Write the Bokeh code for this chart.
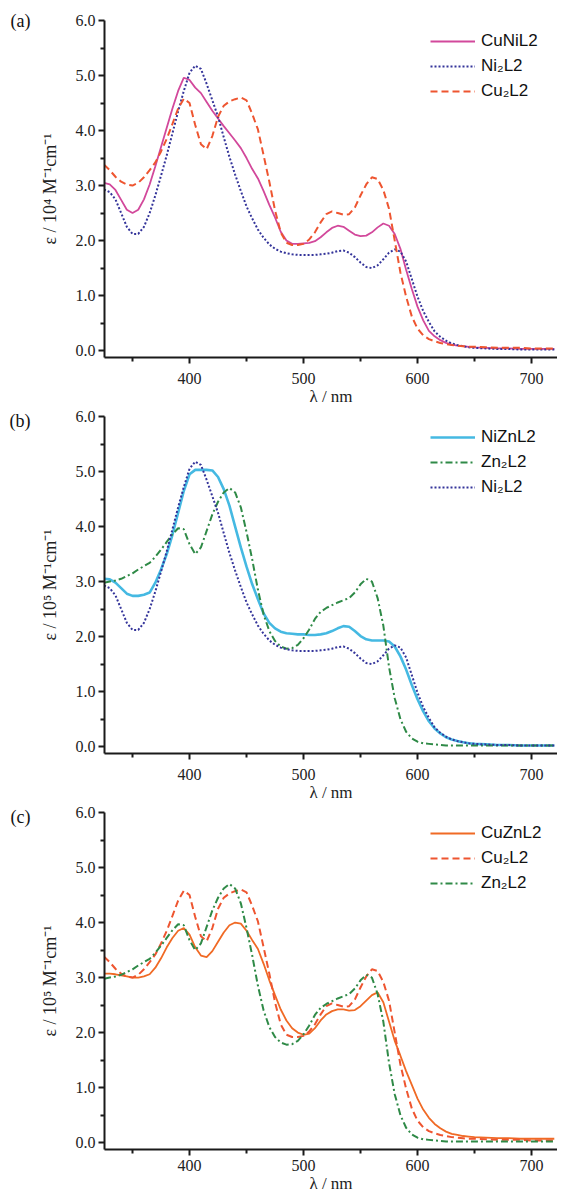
from bokeh.plotting import figure
from bokeh.models import (Range1d, Legend, LegendItem, FixedTicker, NumeralTickFormatter,
                          LinearAxis, CustomJSTickFormatter)
from bokeh.layouts import column
from bokeh.embed import file_html
from bokeh.resources import INLINE

# wavelength grid (nm)
wl = [325, 330, 335, 340, 345, 350, 355, 360, 365, 370, 375, 380, 385, 390, 395,
      400, 405, 410, 415, 420, 425, 430, 435, 440, 445, 450, 455, 460, 465, 470,
      475, 480, 485, 490, 495, 500, 505, 510, 515, 520, 525, 530, 535, 540, 545,
      550, 555, 560, 565, 570, 575, 580, 585, 590, 595, 600, 605, 610, 615, 620,
      625, 630, 635, 640, 645, 650, 660, 670, 680, 690, 700, 710, 720]

ni2l2 = [2.93, 2.88, 2.75, 2.50, 2.25, 2.12, 2.12, 2.25, 2.50, 2.82, 3.18, 3.55, 3.95, 4.35, 4.72,
         5.05, 5.18, 5.12, 4.85, 4.55, 4.25, 3.88, 3.52, 3.20, 2.90, 2.62, 2.40, 2.20, 2.05, 1.93,
         1.85, 1.80, 1.77, 1.75, 1.74, 1.74, 1.74, 1.74, 1.75, 1.76, 1.78, 1.81, 1.82, 1.78, 1.70,
         1.60, 1.52, 1.50, 1.55, 1.66, 1.78, 1.84, 1.80, 1.62, 1.30, 0.98, 0.72, 0.52, 0.35, 0.25,
         0.18, 0.13, 0.10, 0.08, 0.06, 0.05, 0.04, 0.03, 0.03, 0.02, 0.02, 0.02, 0.02]

cunil2 = [3.05, 3.02, 2.92, 2.74, 2.56, 2.50, 2.56, 2.75, 3.02, 3.35, 3.70, 4.05, 4.40, 4.72, 4.96,
          4.92, 4.78, 4.68, 4.52, 4.36, 4.22, 4.08, 3.95, 3.82, 3.68, 3.50, 3.30, 3.13, 2.90, 2.65,
          2.42, 2.16, 2.00, 1.94, 1.94, 1.95, 1.96, 1.99, 2.06, 2.15, 2.23, 2.27, 2.25, 2.18, 2.11,
          2.08, 2.09, 2.15, 2.24, 2.31, 2.27, 2.12, 1.85, 1.47, 1.12, 0.80, 0.55, 0.36, 0.26, 0.19,
          0.14, 0.11, 0.09, 0.08, 0.07, 0.06, 0.05, 0.04, 0.04, 0.03, 0.03, 0.03, 0.03]

cu2l2 = [3.38, 3.28, 3.16, 3.07, 3.02, 3.00, 3.05, 3.15, 3.28, 3.42, 3.62, 3.85, 4.12, 4.40, 4.58,
         4.50, 4.10, 3.75, 3.66, 3.90, 4.25, 4.45, 4.53, 4.57, 4.60, 4.55, 4.30, 4.02, 3.55, 3.07,
         2.55, 2.15, 1.96, 1.92, 1.92, 1.94, 2.02, 2.15, 2.33, 2.48, 2.53, 2.50, 2.47, 2.48, 2.60,
         2.82, 3.02, 3.15, 3.12, 2.92, 2.58, 2.00, 1.42, 0.98, 0.62, 0.40, 0.28, 0.21, 0.17, 0.14,
         0.12, 0.10, 0.09, 0.08, 0.07, 0.07, 0.06, 0.05, 0.05, 0.05, 0.04, 0.04, 0.04]

niznl2 = [3.05, 3.04, 2.98, 2.88, 2.78, 2.74, 2.74, 2.76, 2.80, 2.98, 3.22, 3.50, 3.85, 4.25, 4.65,
          4.95, 5.03, 5.03, 5.03, 5.02, 4.90, 4.68, 4.38, 4.00, 3.62, 3.27, 2.95, 2.68, 2.42, 2.25,
          2.15, 2.09, 2.06, 2.05, 2.04, 2.04, 2.03, 2.03, 2.04, 2.06, 2.10, 2.15, 2.19, 2.18, 2.10,
          2.01, 1.95, 1.93, 1.93, 1.93, 1.91, 1.82, 1.64, 1.40, 1.12, 0.86, 0.64, 0.46, 0.33, 0.24,
          0.17, 0.13, 0.10, 0.08, 0.06, 0.05, 0.04, 0.03, 0.03, 0.02, 0.02, 0.02, 0.02]

zn2l2 = [2.98, 3.00, 3.02, 3.05, 3.10, 3.15, 3.22, 3.28, 3.34, 3.45, 3.58, 3.72, 3.86, 3.97, 3.95,
         3.68, 3.50, 3.62, 3.92, 4.22, 4.45, 4.62, 4.70, 4.62, 4.35, 3.90, 3.40, 2.85, 2.40, 2.10,
         1.92, 1.82, 1.78, 1.79, 1.85, 1.97, 2.13, 2.32, 2.45, 2.52, 2.57, 2.62, 2.66, 2.70, 2.80,
         2.95, 3.05, 3.00, 2.70, 2.20, 1.45, 0.88, 0.50, 0.27, 0.15, 0.09, 0.06, 0.05, 0.04, 0.03,
         0.02, 0.02, 0.02, 0.02, 0.02, 0.02, 0.02, 0.02, 0.02, 0.02, 0.02, 0.02, 0.02]

cuznl2 = [3.07, 3.07, 3.06, 3.04, 3.02, 3.00, 3.00, 3.02, 3.06, 3.18, 3.35, 3.55, 3.72, 3.85, 3.90,
          3.78, 3.55, 3.40, 3.37, 3.48, 3.65, 3.82, 3.95, 4.00, 3.98, 3.85, 3.68, 3.52, 3.25, 2.95,
          2.68, 2.42, 2.22, 2.08, 2.00, 1.96, 1.98, 2.08, 2.22, 2.33, 2.39, 2.42, 2.42, 2.40, 2.41,
          2.48, 2.58, 2.68, 2.73, 2.55, 2.20, 1.85, 1.58, 1.30, 1.05, 0.80, 0.60, 0.45, 0.34, 0.26,
          0.20, 0.16, 0.14, 0.12, 0.11, 0.10, 0.09, 0.08, 0.08, 0.07, 0.07, 0.07, 0.07]

x_major = [400, 500, 600, 700]
x_minor = [350, 450, 550, 650]
y_major = [0, 1, 2, 3, 4, 5, 6]
y_minor = [0.5, 1.5, 2.5, 3.5, 4.5, 5.5]

STYLE = {
    "CuNiL2": dict(color="#d2489b", width=1.8, dash="solid"),
    "Ni₂L2": dict(color="#34349a", width=2.0, dash="2 2"),
    "Cu₂L2": dict(color="#ee5530", width=2.0, dash="7 4"),
    "NiZnL2": dict(color="#45b9e2", width=2.6, dash="solid"),
    "Zn₂L2": dict(color="#2f8a47", width=2.0, dash="7 3 2 3"),
    "CuZnL2": dict(color="#f06a25", width=1.8, dash="solid"),
}

SERIF = "Liberation Serif"
SANS = "Liberation Sans"


def make_panel(tag, ylabel, names, ys, border_top, border_bottom, xstandoff):
    frame_h = 338
    p = figure(width=557, height=border_top + frame_h + border_bottom,
               output_backend="svg", toolbar_location=None,
               x_range=Range1d(325.4, 722.8), y_range=Range1d(-0.125, 6.0),
               min_border_left=104, min_border_right=0, min_border_top=border_top,
               min_border_bottom=border_bottom)
    p.outline_line_color = None
    p.grid.visible = False

    for ax in (p.xaxis[0], p.yaxis[0]):
        ax.axis_line_width = 2
        ax.axis_line_color = "#1a1a1a"
        ax.major_tick_line_width = 2
        ax.minor_tick_line_width = 2
        ax.major_tick_line_color = "#1a1a1a"
        ax.minor_tick_line_color = "#1a1a1a"
        ax.major_tick_out = 6
        ax.major_tick_in = 0
        ax.minor_tick_out = 4
        ax.minor_tick_in = 0
        ax.major_label_text_font = SERIF
        ax.major_label_text_font_size = "16px"
        ax.major_label_text_color = "#222222"
        ax.axis_label_text_font = SERIF
        ax.axis_label_text_font_style = "normal"
        ax.axis_label_text_color = "#222222"

    p.xaxis.ticker = FixedTicker(ticks=x_major, minor_ticks=x_minor)
    p.yaxis.ticker = FixedTicker(ticks=y_major, minor_ticks=y_minor)
    p.yaxis.formatter = NumeralTickFormatter(format="0.0")
    p.xaxis.major_label_standoff = xstandoff
    p.xaxis.axis_label_standoff = 0
    p.xaxis.axis_label_text_font_size = "17px"
    p.yaxis.major_label_standoff = 3
    p.yaxis.axis_label_standoff = 13
    p.yaxis.axis_label_text_font_size = "18px"
    p.xaxis.axis_label = "λ / nm"
    p.yaxis.axis_label = ylabel

    # panel tag drawn as a label-only axis further left
    tag_axis = LinearAxis(ticker=FixedTicker(ticks=[6.0], minor_ticks=[]),
                          formatter=CustomJSTickFormatter(code="return '%s';" % tag),
                          axis_line_color=None, major_tick_line_color=None,
                          minor_tick_line_color=None, major_label_standoff=0,
                          major_label_text_font=SERIF, major_label_text_font_size="18px",
                          major_label_text_color="#111111")
    p.add_layout(tag_axis, "left")

    items = []
    for name, y in zip(names, ys):
        s = STYLE[name]
        r = p.line(wl, y, line_color=s["color"], line_width=s["width"], line_dash=s["dash"])
        items.append(LegendItem(label=name, renderers=[r]))

    leg = Legend(items=items, location=(326, 256), padding=0, margin=0, spacing=5,
                 glyph_width=45, glyph_height=20, label_height=20, label_standoff=6,
                 label_text_font=SANS, label_text_font_size="17px", label_text_color="#111111",
                 border_line_color=None, background_fill_alpha=0)
    p.add_layout(leg)
    return p


pa = make_panel("(a)", "ε / 10⁴ M⁻¹cm⁻¹", ["CuNiL2", "Ni₂L2", "Cu₂L2"],
                [cunil2, ni2l2, cu2l2], 20, 50, 9)
pb = make_panel("(b)", "ε / 10⁵ M⁻¹cm⁻¹", ["NiZnL2", "Zn₂L2", "Ni₂L2"],
                [niznl2, zn2l2, ni2l2], 8, 50, 9)
pc = make_panel("(c)", "ε / 10⁵ M⁻¹cm⁻¹", ["CuZnL2", "Cu₂L2", "Zn₂L2"],
                [cuznl2, cu2l2, zn2l2], 8, 45, 4)

layout = column(pa, pb, pc, spacing=0)
open("out.html", "w").write(file_html(layout, INLINE))
